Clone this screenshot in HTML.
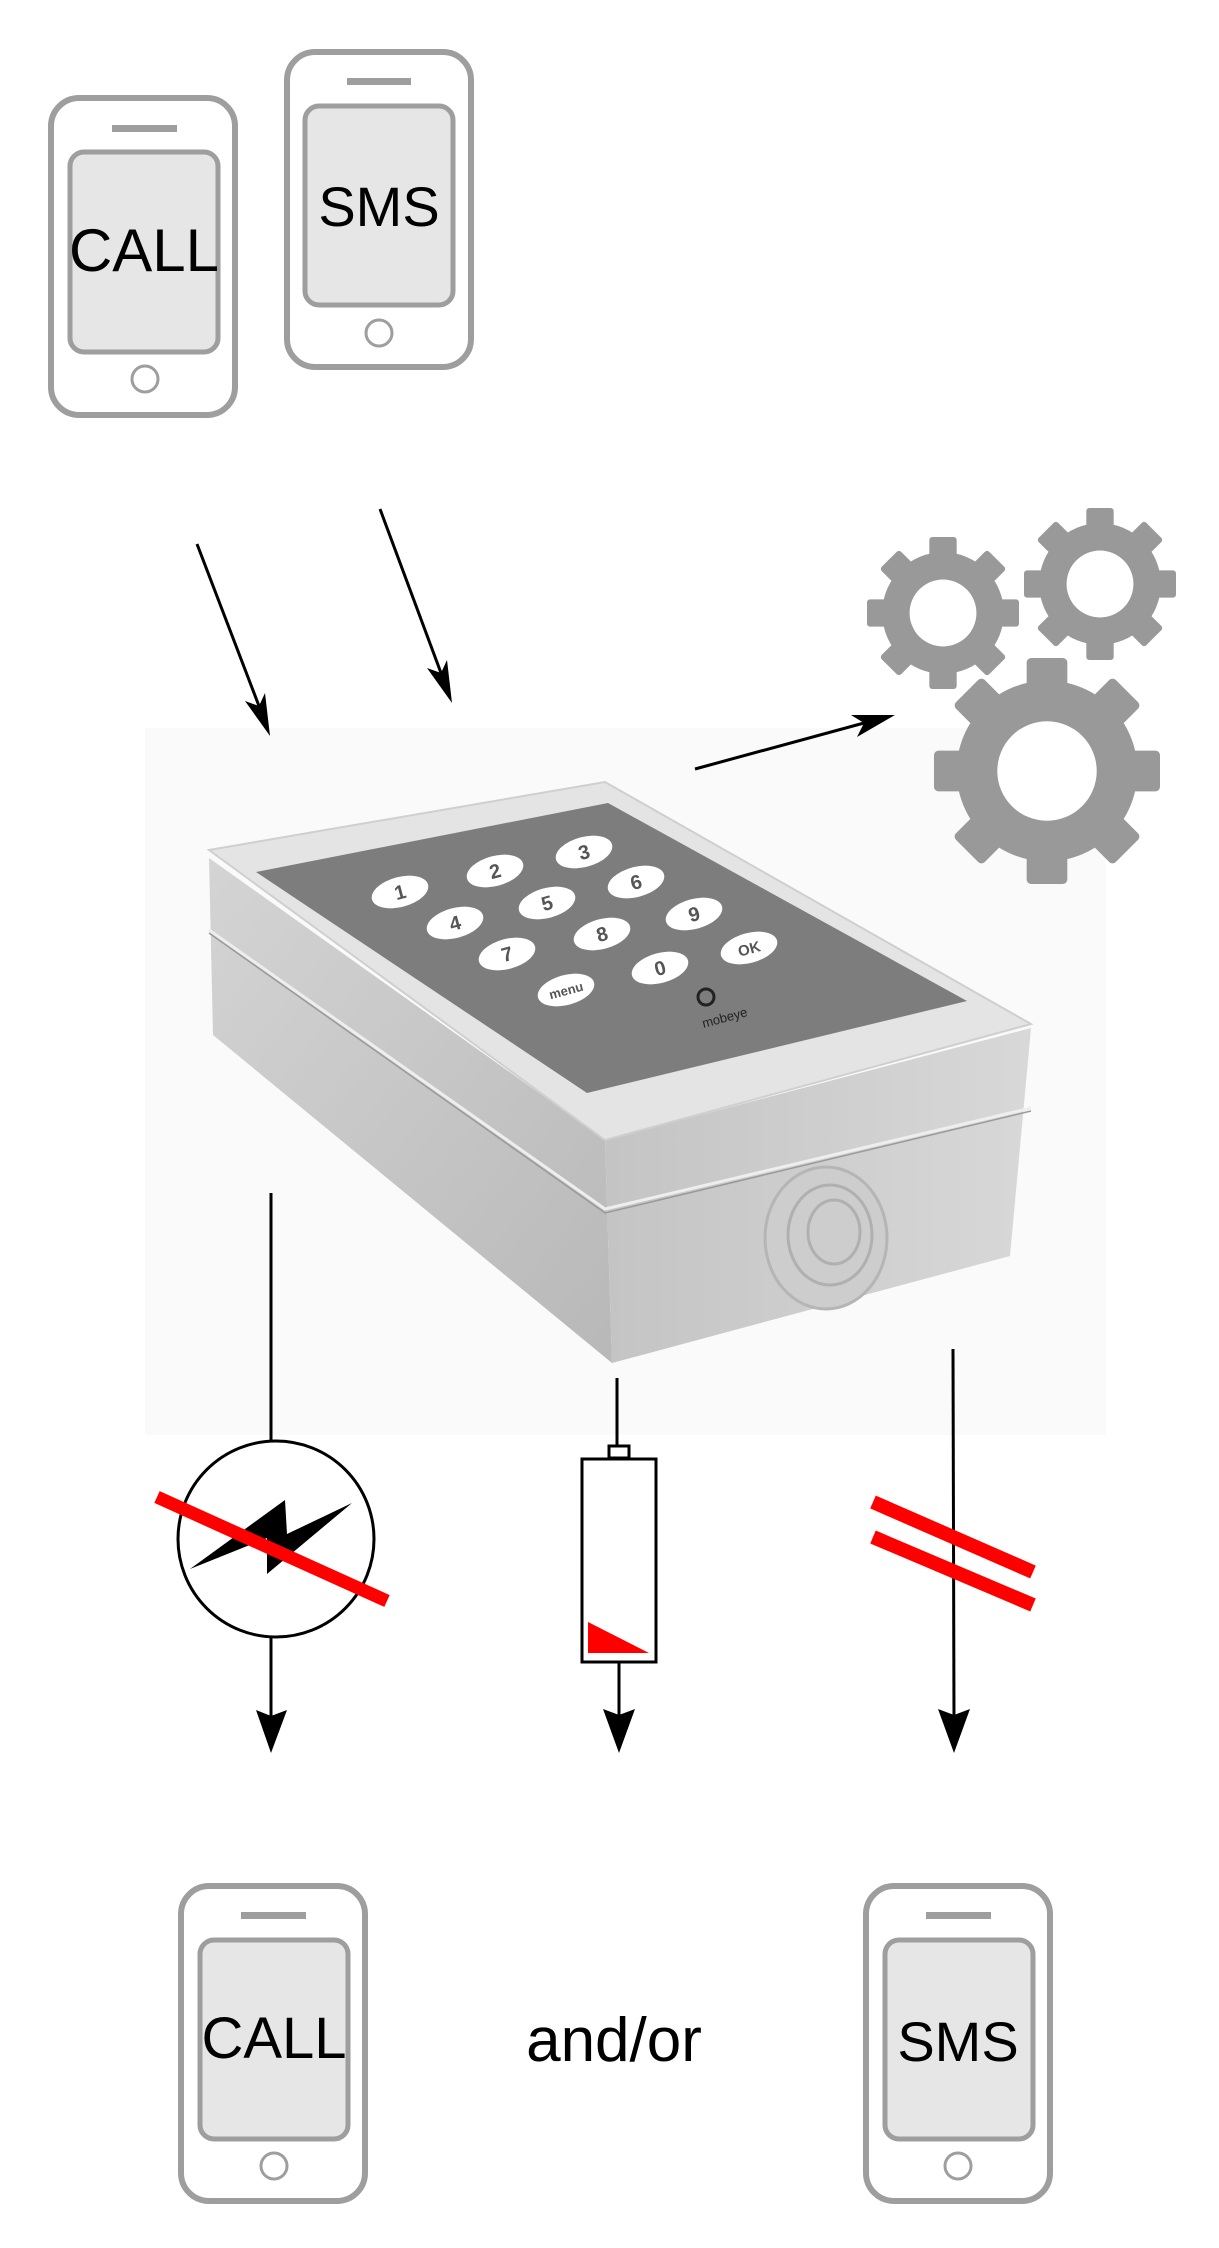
<!DOCTYPE html>
<html><head><meta charset="utf-8"><style>
html,body{margin:0;padding:0;background:#fff}
svg{display:block}
text{font-family:"Liberation Sans",sans-serif}
</style></head><body>
<svg width="1219" height="2248" viewBox="0 0 1219 2248" xmlns="http://www.w3.org/2000/svg">
<defs>
<g id="gear">
<circle r="0.8" fill="#999"/>
<g fill="#999">
<rect x="-0.18" y="-1" width="0.36" height="0.4" rx="0.04"/>
<rect x="-0.18" y="-1" width="0.36" height="0.4" rx="0.04" transform="rotate(45)"/>
<rect x="-0.18" y="-1" width="0.36" height="0.4" rx="0.04" transform="rotate(90)"/>
<rect x="-0.18" y="-1" width="0.36" height="0.4" rx="0.04" transform="rotate(135)"/>
<rect x="-0.18" y="-1" width="0.36" height="0.4" rx="0.04" transform="rotate(180)"/>
<rect x="-0.18" y="-1" width="0.36" height="0.4" rx="0.04" transform="rotate(225)"/>
<rect x="-0.18" y="-1" width="0.36" height="0.4" rx="0.04" transform="rotate(270)"/>
<rect x="-0.18" y="-1" width="0.36" height="0.4" rx="0.04" transform="rotate(315)"/>
</g>
<circle r="0.44" fill="#fff"/>
</g>
<linearGradient id="front" x1="0" y1="0" x2="1" y2="0"><stop offset="0" stop-color="#c4c4c4"/><stop offset="1" stop-color="#d8d8d8"/></linearGradient>
<linearGradient id="left" x1="0" y1="0" x2="1" y2="1"><stop offset="0" stop-color="#d4d4d4"/><stop offset="1" stop-color="#b8b8b8"/></linearGradient>
</defs>

<!-- device photo background -->
<rect x="145" y="728" width="961" height="707" fill="#fafafa"/>

<!-- top phones -->
<g fill="none" stroke="#9e9e9e">
<rect x="51" y="98" width="184" height="317" rx="28" stroke-width="6"/>
<rect x="70" y="152" width="148" height="200" rx="14" fill="#e6e6e6" stroke-width="5"/>
<circle cx="145" cy="379" r="13" stroke-width="3"/>
<rect x="287" y="52" width="184" height="315" rx="28" stroke-width="6"/>
<rect x="305" y="106" width="148" height="199" rx="14" fill="#e6e6e6" stroke-width="5"/>
<circle cx="379" cy="333" r="13" stroke-width="3"/>
</g>
<rect x="112" y="125" width="65" height="7" fill="#9e9e9e"/>
<rect x="347" y="78" width="64" height="7" fill="#9e9e9e"/>
<text x="144" y="271" font-size="60" text-anchor="middle">CALL</text>
<text x="379" y="226" font-size="56" text-anchor="middle">SMS</text>

<!-- arrows top -->
<g stroke="#000" stroke-width="3">
<line x1="197" y1="544" x2="259" y2="706"/>
<line x1="380" y1="509" x2="441" y2="673"/>
<line x1="695" y1="769" x2="864" y2="723"/>
</g>
<path d="M270 736 L245 701 L259 706 L265 693 Z" fill="#000"/>
<path d="M452 703 L427 668 L441 673 L447 660 Z" fill="#000"/>
<path d="M895 715 L857 737 L864 723 L851 715 Z" fill="#000"/>

<!-- gears -->
<use href="#gear" transform="translate(943,613) scale(76)"/>
<use href="#gear" transform="translate(1100,584) scale(76)"/>
<use href="#gear" transform="translate(1047,771) scale(113)"/>

<!-- device -->
<polygon points="209,858 605,1140 612,1363 213,1035" fill="url(#left)"/>
<polygon points="605,1140 1031,1028 1010,1256 612,1363" fill="url(#front)"/>
<polygon points="209,850 605,782 1031,1024 605,1140" fill="#e4e4e4" stroke="#cfcfcf" stroke-width="2"/>
<polygon points="256,872 608,803 967,1001 587,1093" fill="#7d7d7d"/>
<polyline points="209,930 605,1209 1031,1108" fill="none" stroke="#eee" stroke-width="3"/>
<polyline points="209,933 605,1213 1031,1111" fill="none" stroke="#9a9a9a" stroke-width="1.5"/>
<ellipse cx="826" cy="1238" rx="61" ry="71" fill="#cdcdcd" stroke="#b5b5b5" stroke-width="3"/>
<ellipse cx="830" cy="1235" rx="42" ry="50" fill="none" stroke="#b0b0b0" stroke-width="3"/>
<ellipse cx="834" cy="1232" rx="26" ry="32" fill="none" stroke="#b0b0b0" stroke-width="3"/>
<g fill="#fff">
<ellipse cx="400" cy="892" rx="29" ry="15" transform="rotate(-15 400 892)"/>
<ellipse cx="495" cy="871" rx="29" ry="15" transform="rotate(-15 495 871)"/>
<ellipse cx="584" cy="852" rx="29" ry="15" transform="rotate(-15 584 852)"/>
<ellipse cx="636" cy="882" rx="29" ry="15" transform="rotate(-15 636 882)"/>
<ellipse cx="547" cy="903" rx="29" ry="15" transform="rotate(-15 547 903)"/>
<ellipse cx="455" cy="923" rx="29" ry="15" transform="rotate(-15 455 923)"/>
<ellipse cx="694" cy="914" rx="29" ry="15" transform="rotate(-15 694 914)"/>
<ellipse cx="602" cy="934" rx="29" ry="15" transform="rotate(-15 602 934)"/>
<ellipse cx="507" cy="954" rx="29" ry="15" transform="rotate(-15 507 954)"/>
<ellipse cx="749" cy="948" rx="29" ry="15" transform="rotate(-15 749 948)"/>
<ellipse cx="660" cy="968" rx="29" ry="15" transform="rotate(-15 660 968)"/>
<ellipse cx="566" cy="990" rx="29" ry="15" transform="rotate(-15 566 990)"/>
</g>
<g font-size="20" font-weight="bold" fill="#555" text-anchor="middle">
<text x="400" y="899" transform="rotate(-15 400 892)">1</text>
<text x="495" y="878" transform="rotate(-15 495 871)">2</text>
<text x="584" y="859" transform="rotate(-15 584 852)">3</text>
<text x="636" y="889" transform="rotate(-15 636 882)">6</text>
<text x="547" y="910" transform="rotate(-15 547 903)">5</text>
<text x="455" y="930" transform="rotate(-15 455 923)">4</text>
<text x="694" y="921" transform="rotate(-15 694 914)">9</text>
<text x="602" y="941" transform="rotate(-15 602 934)">8</text>
<text x="507" y="961" transform="rotate(-15 507 954)">7</text>
<text x="749" y="954" font-size="15" transform="rotate(-15 749 948)">OK</text>
<text x="660" y="975" transform="rotate(-15 660 968)">0</text>
<text x="566" y="995" font-size="13" transform="rotate(-15 566 990)">menu</text>
</g>
<circle cx="706" cy="997" r="8" fill="none" stroke="#222" stroke-width="3"/>
<text x="725" y="1022" font-size="13" fill="#222" text-anchor="middle" transform="rotate(-15 725 1019)">mobeye</text>

<!-- left branch -->
<g stroke="#000" stroke-width="3" fill="none">
<line x1="271" y1="1193" x2="271" y2="1441"/>
<circle cx="276" cy="1539" r="98"/>
<line x1="271" y1="1637" x2="271" y2="1722"/>
</g>
<path d="M190 1569 L285 1500 L287 1534 L352 1503 L267 1574 L267 1538 Z" fill="#000"/>
<line x1="157" y1="1497" x2="387" y2="1601" stroke="#f00" stroke-width="13"/>
<path d="M271 1753 L256 1710 L271 1716 L287 1710 Z" fill="#000"/>

<!-- middle branch -->
<g stroke="#000" stroke-width="3" fill="#fff">
<line x1="617" y1="1378" x2="617" y2="1446"/>
<rect x="609" y="1446" width="20" height="12"/>
<rect x="582" y="1459" width="74" height="203"/>
<line x1="619" y1="1662" x2="619" y2="1722"/>
</g>
<polygon points="588,1622 588,1653 649,1653" fill="#f00"/>
<path d="M619 1753 L603 1709 L619 1715 L635 1709 Z" fill="#000"/>

<!-- right branch -->
<line x1="953" y1="1349" x2="954" y2="1722" stroke="#000" stroke-width="3"/>
<line x1="873" y1="1502" x2="1033" y2="1572" stroke="#f00" stroke-width="14"/>
<line x1="873" y1="1537" x2="1033" y2="1605" stroke="#f00" stroke-width="14"/>
<path d="M954 1753 L938 1709 L954 1715 L970 1709 Z" fill="#000"/>

<!-- bottom phones -->
<g fill="none" stroke="#9e9e9e">
<rect x="181" y="1886" width="184" height="315" rx="28" stroke-width="6"/>
<rect x="200" y="1940" width="148" height="199" rx="14" fill="#e6e6e6" stroke-width="5"/>
<circle cx="274" cy="2166" r="13" stroke-width="3"/>
<rect x="866" y="1886" width="184" height="315" rx="28" stroke-width="6"/>
<rect x="885" y="1940" width="148" height="199" rx="14" fill="#e6e6e6" stroke-width="5"/>
<circle cx="958" cy="2166" r="13" stroke-width="3"/>
</g>
<rect x="241" y="1912" width="65" height="7" fill="#9e9e9e"/>
<rect x="926" y="1912" width="65" height="7" fill="#9e9e9e"/>
<text x="274" y="2058" font-size="58" text-anchor="middle">CALL</text>
<text x="958" y="2061" font-size="56" text-anchor="middle">SMS</text>
<text x="614" y="2061" font-size="62" text-anchor="middle">and/or</text>
</svg>
</body></html>
